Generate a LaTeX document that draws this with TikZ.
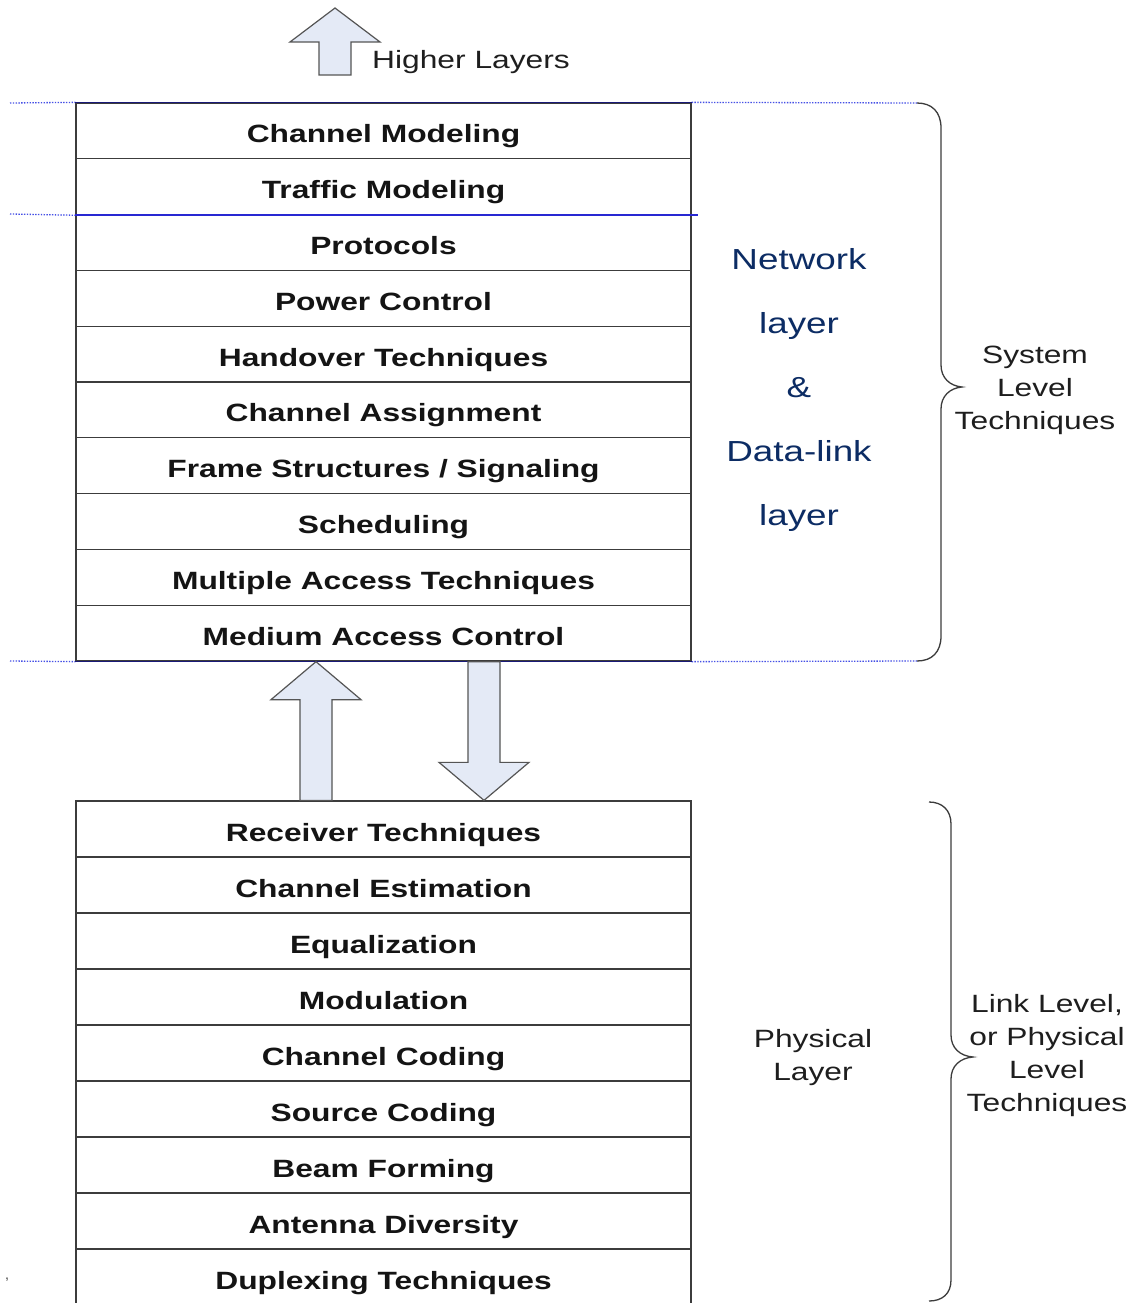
\documentclass[tikz,border=0pt]{standalone}
\usepackage{fontspec}
\setmainfont{Liberation Sans}[FakeStretch=1.27]
\usetikzlibrary{calc}
\definecolor{navy}{RGB}{12,44,100}
\definecolor{rulenavy}{RGB}{26,26,120}
\definecolor{rulebue}{RGB}{40,40,210}
\definecolor{dotblue}{RGB}{70,80,230}
\definecolor{boxgray}{RGB}{60,60,60}
\definecolor{arrowfill}{RGB}{228,234,246}
\definecolor{arrowline}{RGB}{85,85,85}
\definecolor{labelgray}{RGB}{30,30,30}
\begin{document}
\begin{tikzpicture}[x=1pt,y=-1pt,
  row/.style={draw=boxgray, line width=1.3pt, fill=white, minimum width=615pt,
    minimum height=55.8pt, inner sep=0pt, text=black!92, text height=26pt, text depth=2pt,
    font=\fontsize{25}{30}\selectfont\bfseries},
  lowrow/.style={row, minimum height=56pt},
  blockarrow/.style={draw=arrowline, fill=arrowfill, line width=1.2pt, line join=miter},
  bluedot/.style={dotblue, line width=1.3pt, dash pattern=on 1.4pt off 1.4pt},
  navyrule/.style={rulenavy, line width=1.6pt},
  curly/.style={draw=boxgray, line width=1.3pt},
  sidelabel/.style={text=labelgray, align=center, inner sep=0pt,
    font=\fontsize{25}{33}\selectfont},
  layerlabel/.style={text=navy, align=center, inner sep=0pt,
    font=\fontsize{29}{64}\selectfont}]
\useasboundingbox (0,0) rectangle (1133,1303);
\fill[white] (0,0) rectangle (1133,1303);
\begin{scope}
\clip (0,0) rectangle (1133,1303);

% upper stack: network / data-link layer techniques
\foreach \t [count=\i] in {Channel Modeling, Traffic Modeling, Protocols, Power Control,
  Handover Techniques, Channel Assignment, Frame Structures / Signaling, Scheduling,
  Multiple Access Techniques, Medium Access Control}
  \node[row] (u\i) at (383.5, {103+55.8*(\i-0.5)}) {\t};

% lower stack: physical layer techniques
\foreach \t [count=\i] in {Receiver Techniques, Channel Estimation, Equalization, Modulation,
  Channel Coding, Source Coding, Beam Forming, Antenna Diversity, Duplexing Techniques}
  \node[lowrow] (l\i) at (383.5, {801+56*(\i-0.5)}) {\t};

% layer boundaries
\coordinate (topL) at (10,103);
\coordinate (topR) at (917,103);
\coordinate (midL) at (10,214);
\coordinate (botL) at (10,661);
\coordinate (botR) at (917,661);
\draw[bluedot] (topL) -- (u1.north west);
\draw[bluedot] (u1.north east) -- (topR);
\draw[bluedot] (midL) -- (u2.south west);
\draw[bluedot] (botL) -- (u10.south west);
\draw[bluedot] (u10.south east) -- (botR);
\draw[navyrule] (u1.north west) -- (u1.north east);
\draw[rulebue, line width=1.6pt] (u2.south west) -- ($(u2.south east)+(6,0)$);
\draw[navyrule] (u10.south west) -- (u10.south east);

% braces
\draw[curly] (topR) .. controls (932,103) and (941,112) .. (941,128) -- (941,365)
  .. controls (941,378) and (950,386) .. (962,387) coordinate (sysTip)
  .. controls (950,388) and (941,396) .. (941,409) -- (941,636)
  .. controls (941,652) and (932,661) .. (botR);
\draw[curly] (929,802) .. controls (942,802) and (951,810) .. (951,824) -- (951,1035)
  .. controls (951,1048) and (960,1056) .. (973,1057) coordinate (linkTip)
  .. controls (960,1058) and (951,1066) .. (951,1079) -- (951,1280)
  .. controls (951,1294) and (942,1301) .. (929,1301);

% side labels
\node[layerlabel] (netlayer) at (799,390) {Network\\layer\\\&\\Data-link\\layer};
\node[sidelabel] (syslevel) at (1035,390) {System\\Level\\Techniques};
\node[sidelabel] (phylayer) at (813,1058) {Physical\\Layer};
\node[sidelabel] (linklevel) at (1047,1056) {Link Level,\\or Physical\\Level\\Techniques};

% arrow towards the higher layers
\coordinate (hlTip) at (335,8);
\draw[blockarrow] ($(hlTip)+(-16,67)$) -- ($(hlTip)+(-16,34)$) -- ($(hlTip)+(-45,34)$)
  -- (hlTip) -- ($(hlTip)+(45,34)$) -- ($(hlTip)+(16,34)$) -- ($(hlTip)+(16,67)$) -- cycle;
\node[sidelabel, anchor=west, font=\fontsize{25}{28}\selectfont] (higher) at (372,62) {Higher Layers};

% arrows between the two stacks
\path (u10.south) ++(-67.5,0) coordinate (upTip);
\path (l1.north) ++(-67.5,0) coordinate (upTail);
\draw[blockarrow] ($(upTail)+(-16,0)$) -- ($(upTip)+(-16,38)$) -- ($(upTip)+(-45,38)$)
  -- (upTip) -- ($(upTip)+(45,38)$) -- ($(upTip)+(16,38)$) -- ($(upTail)+(16,0)$) -- cycle;
\path (u10.south) ++(100.5,0) coordinate (downTail);
\path (l1.north) ++(100.5,0) coordinate (downTip);
\draw[blockarrow] ($(downTail)+(-16,0)$) -- ($(downTip)+(-16,-38)$) -- ($(downTip)+(-45,-38)$)
  -- (downTip) -- ($(downTip)+(45,-38)$) -- ($(downTip)+(16,-38)$) -- ($(downTail)+(16,0)$) -- cycle;

\node[text=black!60, font=\fontsize{14}{14}\selectfont] (comma) at (7,1280) {,};
\end{scope}
\end{tikzpicture}
\end{document}
